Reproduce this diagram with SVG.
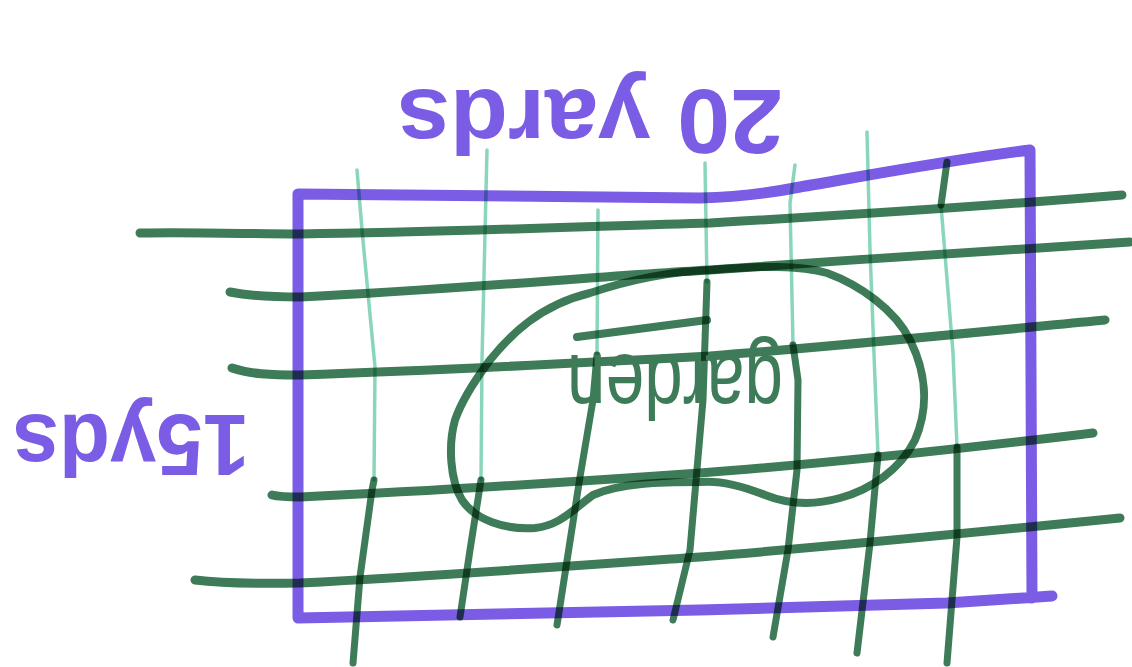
<svg xmlns="http://www.w3.org/2000/svg" width="1132" height="667" viewBox="0 0 1132 667">
  <style>
    .purple { fill: none; stroke: #7b5ce5; stroke-width: 11; stroke-linecap: round; stroke-linejoin: round; }
    .hline { fill: none; stroke: #3e7b58; stroke-width: 9; stroke-linecap: round; stroke-linejoin: round; mix-blend-mode: multiply; }
    .vlight { fill: none; stroke: #8ad6bb; stroke-width: 3.5; stroke-linecap: round; stroke-linejoin: round; mix-blend-mode: multiply; }
    .vdark { fill: none; stroke: #3e7b58; stroke-width: 7; stroke-linecap: round; stroke-linejoin: round; mix-blend-mode: multiply; }
    .blob { fill: none; stroke: #3e7b58; stroke-width: 8; stroke-linecap: round; stroke-linejoin: round; mix-blend-mode: multiply; }
    .ptext { font-family: "Liberation Sans", Arial, sans-serif; font-weight: bold; fill: #7b5ce5; }
    .gtext { font-family: "Liberation Sans", Arial, sans-serif; fill: #3e7b58; }
  </style>
  <rect x="0" y="0" width="1132" height="667" fill="#ffffff"/>

  <g id="boundary">
    <path class="purple" d="M1052,596 L947,603 L700,610 L298,618 L298,194 L700,198 C740,197 770,193 800,187 C870,175 950,160 1030,150 L1032,598"/>
  </g>

  <g id="grid">
    <path class="vlight" d="M357,170 L362,230 L375,367 L374,480"/>
    <path class="vdark" d="M374,480 L372,490 L360,577 L353,663"/>
    <path class="vlight" d="M487,150 L482,360 L481,480"/>
    <path class="vdark" d="M481,480 L470,550 L460,617"/>
    <path class="vlight" d="M598,210 L597,355"/>
    <path class="vdark" d="M597,355 L593,400 L580,477 L557,625"/>
    <path class="vlight" d="M705,163 L707,282"/>
    <path class="vdark" d="M707,282 L703,400 L690,550 L673,620"/>
    <path class="vlight" d="M795,165 L790,203 L793,345"/>
    <path class="vdark" d="M793,345 L798,380 L797,470 L788,550 L773,637"/>
    <path class="vlight" d="M867,132 L870,250 L875,380 L878,455"/>
    <path class="vdark" d="M878,455 L870,543 L857,653"/>
    <path class="vdark" d="M947,162 L941,205"/>
    <path class="vlight" d="M941,205 L953,353 L957,447"/>
    <path class="vdark" d="M957,447 L957,537 L947,663"/>

    <path class="hline" d="M140,233 C200,232 250,234 300,234 C450,232 600,226 710,223 C850,215 1000,205 1122,195"/>
    <path class="hline" d="M230,292 C250,296 270,297 300,297 C450,290 600,276 710,270 C850,260 1000,250 1130,242"/>
    <path class="hline" d="M232,368 C250,374 270,375 300,375 C450,370 600,362 710,356 C850,345 1000,330 1105,320"/>
    <path class="hline" d="M272,495 C280,497 290,497 300,497 C450,490 600,480 700,473 C850,462 1000,444 1093,433"/>
    <path class="hline" d="M195,580 C220,583 250,584 300,583 C450,575 600,564 700,557 C850,545 1000,530 1120,518"/>
  </g>

  <g id="garden">
    <path class="blob" d="M490,360 C510,335 540,305 590,293 C620,283 660,272 710,270 C760,266 800,265 827,273 C860,285 895,310 910,340 C925,370 930,405 915,440 C900,470 870,490 840,498 C815,505 790,505 765,495 C740,485 720,480 700,482 C660,482 620,483 593,495 C570,512 560,525 535,528 C505,530 475,520 462,500 C450,480 448,445 455,420 C462,400 475,380 490,360 Z"/>
    <path class="blob" d="M577,337 L707,320"/>
    <text class="gtext" transform="translate(675,355) rotate(180)" x="0" y="0" text-anchor="middle" font-size="90" textLength="216" lengthAdjust="spacingAndGlyphs">garden</text>
  </g>

  <g id="label-top">
    <text class="ptext" transform="translate(590,90) rotate(180)" x="0" y="0" text-anchor="middle" font-size="90" textLength="386" lengthAdjust="spacingAndGlyphs">20 yards</text>
  </g>

  <g id="label-left">
    <text class="ptext" transform="translate(131,415) rotate(180)" x="0" y="0" text-anchor="middle" font-size="88" textLength="237" lengthAdjust="spacingAndGlyphs">15yds</text>
  </g>
</svg>
